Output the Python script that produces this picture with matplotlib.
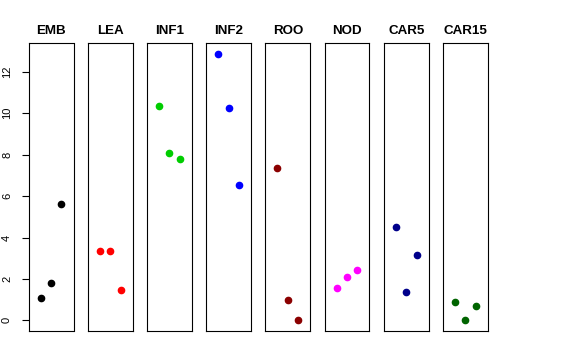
import matplotlib
matplotlib.use('Agg')
import matplotlib.pyplot as plt

plt.rcParams['font.family'] = ['Liberation Sans', 'DejaVu Sans']

# 패널 이름과 색상
groups = ['EMB', 'LEA', 'INF1', 'INF2', 'ROO', 'NOD', 'CAR5', 'CAR15']
colors = ['black', 'red', '#00CD00', 'blue', '#8B0000', 'magenta', '#00008B', '#006400']

# 각 패널의 값 (x = 1, 2, 3)
positions = [1, 2, 3]
emb = [1.06, 1.82, 5.60]
lea = [3.34, 3.34, 1.45]
inf1 = [10.36, 8.09, 7.80]
inf2 = [12.87, 10.26, 6.54]
roo = [7.34, 0.98, 0.00]
nod = [1.56, 2.08, 2.41]
car5 = [4.50, 1.35, 3.14]
car15 = [0.90, 0.00, 0.68]
values = [emb, lea, inf1, inf2, roo, nod, car5, car15]

yticks = [0, 2, 4, 6, 8, 10, 12]

fig = plt.figure(figsize=(5.76, 3.6), dpi=100)

W, H = 576, 360
for i, (name, vals, col) in enumerate(zip(groups, values, colors)):
    left = 28.7 + i * 59.19
    ax = fig.add_axes([left / W, 29 / H, 44.8 / W, 287.7 / H])
    ax.plot(positions, vals, 'o', color=col, markersize=4.5, linestyle='none')
    ax.set_xlim(-0.16, 4.16)
    ax.set_ylim(-0.515, 13.38)
    ax.set_xticks([])
    for s in ax.spines.values():
        s.set_linewidth(0.8)
        s.set_color('black')
    ax.set_title(name, fontsize=9.6, fontweight='bold', pad=6.5)
    if i == 0:
        ax.set_yticks(yticks)
        ax.set_yticklabels([str(t) for t in yticks], rotation=90, va='center', fontsize=8)
        ax.tick_params(axis='y', length=5, width=0.8, pad=7)
    else:
        ax.set_yticks([])

fig.savefig('out.png', dpi=100)
